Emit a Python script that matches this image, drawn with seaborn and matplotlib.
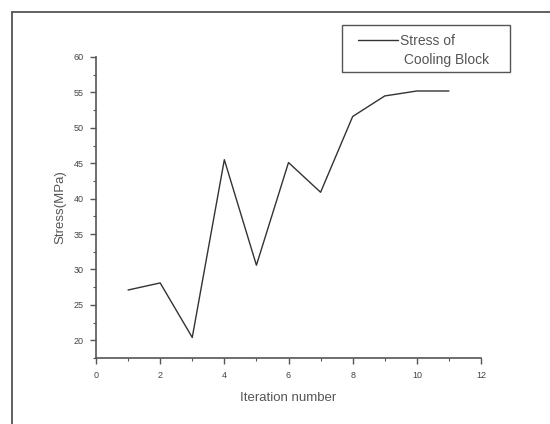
import matplotlib
matplotlib.use("Agg")
import matplotlib.pyplot as plt
from matplotlib.lines import Line2D
from matplotlib.patches import Rectangle
from matplotlib.ticker import MultipleLocator
import seaborn as sns
import pandas as pd

# Stress history of the cooling block over the optimisation iterations
iterations = [1, 2, 3, 4, 5, 6, 7, 8, 9, 10, 11]
stress_mpa = [27.1, 28.1, 20.4, 45.5, 30.6, 45.1, 40.9, 51.6, 54.5, 55.2, 55.2]

x_ticks = [0, 2, 4, 6, 8, 10, 12]
y_ticks = [20, 25, 30, 35, 40, 45, 50, 55, 60]

sns.set_style("ticks")
plt.rcParams["font.family"] = ["Liberation Sans", "DejaVu Sans"]

df = pd.DataFrame({"Iteration number": iterations, "Stress(MPa)": stress_mpa})

W, H = 550, 424
fig = plt.figure(figsize=(W / 100, H / 100), dpi=100)
ax = fig.add_axes([96 / W, 1 - 358 / H, 385 / W, 301 / H])

sns.lineplot(data=df, x="Iteration number", y="Stress(MPa)", ax=ax,
             color="#333333", linewidth=1.0, legend=False)

ax.set_xlim(0, 12)
ax.set_ylim(17.5, 60)
ax.set_xticks(x_ticks)
ax.set_yticks(y_ticks)
ax.xaxis.set_minor_locator(MultipleLocator(1))
ax.yaxis.set_minor_locator(MultipleLocator(2.5))

for side in ("top", "right"):
    ax.spines[side].set_visible(False)
for side in ("left", "bottom"):
    ax.spines[side].set_color("#555555")
    ax.spines[side].set_linewidth(1.2)

ax.tick_params(which="major", direction="out", length=4, width=1.0,
               color="#555555", labelsize=6.5, labelcolor="#444444", pad=5)
ax.tick_params(which="minor", direction="out", length=2.5, width=0.8,
               color="#555555")

ax.set_xlabel("Iteration number", fontsize=9.5, color="#555555", labelpad=9)
ax.set_ylabel("Stress(MPa)", fontsize=9.5, color="#555555", labelpad=5)

# Legend entries above the plotting area, with a separate box around them
handles = [Line2D([], [], color="#333333", linewidth=1.0),
           Line2D([], [], color="none")]
labels = ["Stress of", " Cooling Block"]
leg = fig.legend(handles, labels, loc="upper left",
                 bbox_to_anchor=(358 / W, 1 - 34 / H),
                 frameon=False, fontsize=10,
                 handlelength=2.9, handletextpad=0.1, labelspacing=0.35,
                 borderpad=0, borderaxespad=0)
for t in leg.get_texts():
    t.set_color("#555555")

fig.add_artist(Rectangle((342 / W, 1 - 72 / H), 168 / W, 47 / H,
                         transform=fig.transFigure, fill=False,
                         edgecolor="#555555", linewidth=1.0))

# Outer frame around the figure
fig.add_artist(Line2D([12 / W, 12 / W], [0, 1 - 12 / H],
                      transform=fig.transFigure, color="#555555", linewidth=1.3))
fig.add_artist(Line2D([12 / W, 1], [1 - 12 / H, 1 - 12 / H],
                      transform=fig.transFigure, color="#555555", linewidth=1.3))

fig.savefig("out.png", dpi=100)
